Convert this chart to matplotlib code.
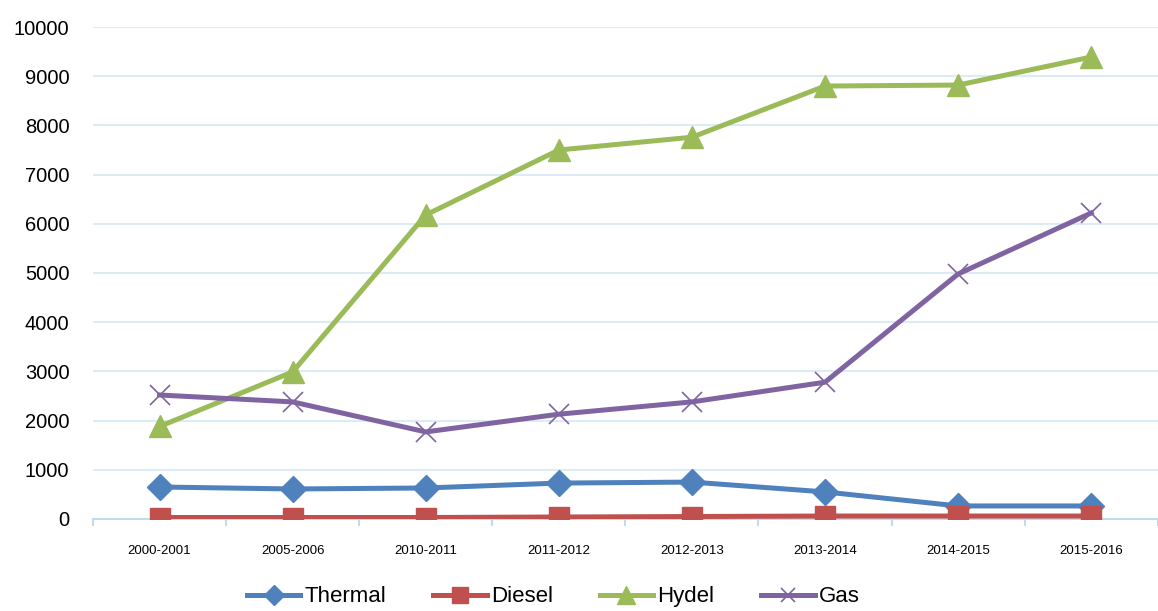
import matplotlib.pyplot as plt
from matplotlib.ticker import FixedLocator, NullFormatter
import numpy as np

# Installed capacity by source (MW), fiscal years
years = ['2000-2001', '2005-2006', '2010-2011', '2011-2012',
         '2012-2013', '2013-2014', '2014-2015', '2015-2016']
thermal = [650, 610, 630, 730, 750, 550, 265, 265]
diesel = [30, 30, 30, 40, 50, 60, 60, 60]
hydel = [1880, 2990, 6180, 7500, 7760, 8800, 8820, 9390]
gas = [2520, 2380, 1770, 2130, 2380, 2780, 4980, 6220]
y_ticks = [0, 1000, 2000, 3000, 4000, 5000, 6000, 7000, 8000, 9000, 10000]

plt.rcParams['font.family'] = ['Liberation Sans', 'DejaVu Sans']

fig = plt.figure(figsize=(11.58, 6.11), dpi=100)
ax = fig.add_axes([0.0803, 0.1506, 0.9195, 0.8052])

x = np.arange(len(years))
series = [
    ('Thermal', thermal, '#4F81BD', 'D', 13, {}),
    ('Diesel', diesel, '#C0504D', 's', 15, {}),
    ('Hydel', hydel, '#9BBB59', '^', 16.5, {}),
    ('Gas', gas, '#8064A2', 'x', 14, {'markeredgewidth': 1.2}),
]
for name, vals, col, mk, ms, extra in series:
    ax.plot(x, vals, color=col, lw=3.6, marker=mk, markersize=ms,
            markerfacecolor=col, markeredgecolor=col, label=name,
            solid_joinstyle='round', zorder=3, **extra)

ax.set_xlim(-0.5, len(years) - 0.5)
ax.set_ylim(0, 10000)

# y axis: gridlines only, no spine
ax.set_yticks(y_ticks)
ax.tick_params(axis='y', length=0, pad=17, labelsize=14.5)
ax.grid(axis='y', color='#DCEBF5', lw=1.5, zorder=0)
ax.set_axisbelow(True)

# x axis: tick marks between categories, labels centred on categories
ax.xaxis.set_major_locator(FixedLocator(np.arange(-0.5, len(years), 1.0)))
ax.xaxis.set_major_formatter(NullFormatter())
ax.xaxis.set_minor_locator(FixedLocator(x))
ax.set_xticklabels(years, minor=True)
ax.tick_params(axis='x', which='major', direction='out', length=5,
               width=1.5, color='#BFDCEB')
ax.tick_params(axis='x', which='minor', length=0, pad=19, labelsize=9.5)

for side in ['left', 'right', 'top']:
    ax.spines[side].set_visible(False)
ax.spines['bottom'].set_color('#BFDCEB')
ax.spines['bottom'].set_linewidth(1.5)

fig.legend(loc='center', bbox_to_anchor=(0.478, 0.023), ncol=4, frameon=False,
           fontsize=16, handlelength=2.4, handletextpad=0.2, columnspacing=2.1,
           markerscale=0.75, borderaxespad=0)

fig.savefig('out.png', dpi=100)
